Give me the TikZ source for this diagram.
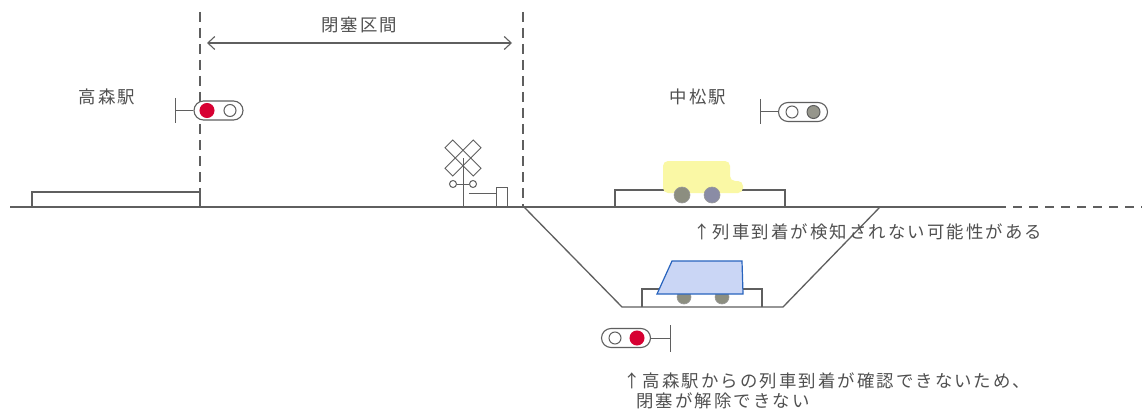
\documentclass[tikz,border=0pt]{standalone}
\usepackage{fontspec}
\setmainfont[LetterSpace=12]{Noto Sans CJK JP}
\usetikzlibrary{positioning}
\usetikzlibrary{arrows.meta}
\usetikzlibrary{shapes.misc}

\definecolor{linegray}{RGB}{95,95,95}
\definecolor{textgray}{RGB}{80,80,80}
\definecolor{lampred}{RGB}{215,0,50}
\definecolor{lampgray}{RGB}{150,150,140}
\definecolor{wheelgray}{RGB}{140,142,128}
\definecolor{wheelblue}{RGB}{138,140,165}
\definecolor{trainyellow}{RGB}{250,248,165}
\definecolor{trainblue}{RGB}{202,214,245}
\definecolor{edgeblue}{RGB}{40,100,190}

\tikzset{
    rail/.style={
        draw=linegray,
        line width=1.3pt
    },
    thinrail/.style={
        draw=linegray,
        line width=1pt
    },
    boundary/.style={
        draw=linegray,
        line width=1.1pt,
        dash pattern=on 10pt off 6pt
    },
    sigbody/.style={
        rounded rectangle,
        draw=linegray,
        line width=1.1pt,
        fill=white,
        minimum width=49pt,
        minimum height=19pt,
        inner sep=0pt
    },
    lamp/.style={
        circle,
        draw=linegray,
        line width=1pt,
        fill=white,
        minimum size=12pt,
        inner sep=0pt
    },
    redlamp/.style={
        lamp,
        draw=lampred,
        fill=lampred,
        minimum size=14pt
    },
    graylamp/.style={
        lamp,
        fill=lampgray,
        minimum size=13pt
    },
    wheel/.style={
        circle,
        draw=gray!80,
        line width=0.6pt,
        minimum size=16pt,
        inner sep=0pt
    },
    note/.style={
        text=textgray,
        font=\fontsize{17.4}{20}\selectfont,
        inner sep=0pt
    }
}

\begin{document}
\begin{tikzpicture}[x=1pt,y=-1pt]
    \fill[white] (0,0) rectangle (1142,417);
    \useasboundingbox (0,0) rectangle (1142,417);

    % block section
    \draw[boundary] (200,12) -- (200,207);
    \draw[boundary] (523,12) -- (523,207);
    \coordinate (spanL) at (207,43);
    \coordinate (spanR) at (512,43);
    \draw[rail, line width=1.1pt, {Straight Barb[length=7pt,width=13pt]}-{Straight Barb[length=7pt,width=13pt]}] (spanL) -- (spanR);
    \node[note] (span) at (359,25) {閉塞区間};

    % track, platforms and the cutting
    \draw[rail] (10,207) -- (997,207);
    \draw[rail, dash pattern=on 9pt off 7pt] (997,207) -- (1142,207);
    \draw[rail] (32,207) -- (32,192) -- (200,192) -- (200,207);
    \draw[rail] (615,207) -- (615,190) -- (785,190) -- (785,207);
    \draw[rail] (524,207) -- (622,307) -- (783,307) -- (880,207);
    \draw[rail] (642,307) -- (642,289) -- (762,289) -- (762,307);

    % stations
    \node[note] (takamori) at (107,97) {高森駅};
    \node[note] (nakamatsu) at (698,97) {中松駅};

    % signals
    \node[sigbody] (sigA) at (218.5,110.5) {};
    \node[redlamp] (sigAr) at (207,110.5) {};
    \node[lamp] (sigAw) at (230,110.5) {};
    \draw[thinrail] (sigA.west) -- (175,110.5);
    \draw[thinrail] (175,98) -- (175,123);

    \node[sigbody] (sigB) at (803,112) {};
    \node[lamp] (sigBw) at (792,112) {};
    \node[graylamp] (sigBg) at (813.5,112) {};
    \draw[thinrail] (sigB.west) -- (760,112);
    \draw[thinrail] (760,99) -- (760,124);

    \node[sigbody] (sigC) at (626,338) {};
    \node[lamp] (sigCw) at (615,338) {};
    \node[redlamp] (sigCr) at (637,338) {};
    \draw[thinrail] (sigC.east) -- (670,338);
    \draw[thinrail] (670,325) -- (670,352);

    % level crossing
    \draw[thinrail, rotate around={45:(463,158)}] (443,152.5) rectangle (483,163.5);
    \draw[thinrail, rotate around={-45:(463,158)}] (443,152.5) rectangle (483,163.5);
    \draw[thinrail] (463,158) -- (463,207);
    \node[circle, thinrail, minimum size=7pt, inner sep=0pt] (xlampL) at (453,184) {};
    \node[circle, thinrail, minimum size=7pt, inner sep=0pt] (xlampR) at (473,184) {};
    \draw[thinrail] (xlampL) -- (xlampR);
    \draw[thinrail] (496,207) -- (496,187) -- (507,187) -- (507,207);
    \draw[thinrail] (469,193) -- (496,193);

    % train at Nakamatsu
    \fill[trainyellow, rounded corners=5pt] (663,193) -- (663,161) -- (730,161)
        -- (730,181) -- (743,181) -- (743,193) -- cycle;
    \node[wheel, fill=wheelgray] (w1) at (682,195) {};
    \node[wheel, fill=wheelblue] (w2) at (712,195) {};

    % train in the cutting
    \node[wheel, fill=wheelgray, minimum size=14pt] (w3) at (684,297) {};
    \node[wheel, fill=wheelgray, minimum size=14pt] (w4) at (722,297) {};
    \filldraw[fill=trainblue, draw=edgeblue, line width=1.2pt] (657,294) -- (672,261)
        -- (742,261) -- (743,294) -- cycle;

    % notes
    \node[note, anchor=west] (note1) at (693,232) {↑列車到着が検知されない可能性がある};
    \node[note, anchor=north west, align=left] (note2) at (623,373)
        {↑高森駅からの列車到着が確認できないため、\\\hspace*{0.75em}閉塞が解除できない};
\end{tikzpicture}
\end{document}
